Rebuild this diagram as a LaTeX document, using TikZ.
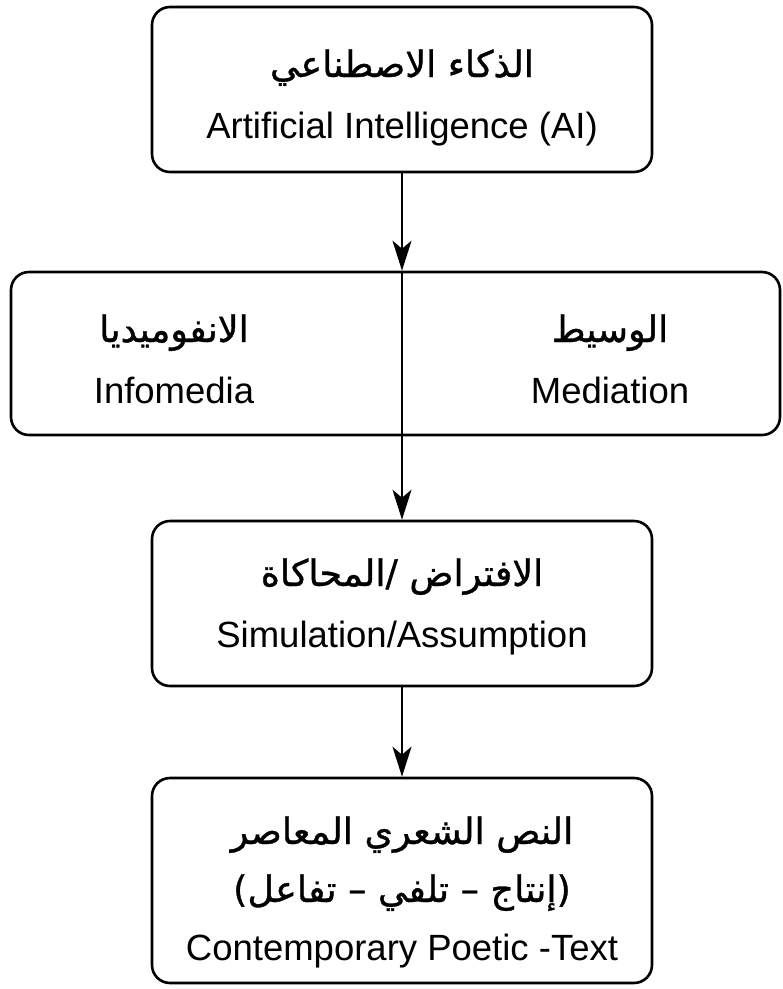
\documentclass[tikz,border=0pt]{standalone}
\usepackage{fontspec}
\setmainfont{Liberation Sans}
\newfontfamily\arabicfont[Script=Arabic,RawFeature={embolden=0.9}]{DejaVu Sans}
\TeXXeTstate=1
\usepackage{tikz}
\usetikzlibrary{arrows.meta,positioning}

\newcommand{\arline}[1]{{\arabicfont\beginR #1\endR}}

\begin{document}
\begin{tikzpicture}[
  x=1pt, y=1pt,
  font=\fontsize{36.5}{61}\selectfont,
  box/.style={draw, line width=2.6pt, rounded corners=18pt, align=center, minimum width=500pt, minimum height=165pt, text depth=8pt},
  wide/.style={draw, line width=2.6pt, rounded corners=18pt, minimum width=769pt, minimum height=163pt},
  lbl/.style={align=center, anchor=base},
  arr/.style={-{Stealth[length=30pt,width=19pt,inset=8pt]}, line width=2.3pt}
]
  \useasboundingbox (0,0) rectangle (783,-989);

  \node[box, text height=105pt] (ai) at (402,-89.5) {\arline{الذكاء الاصطناعي}\\Artificial Intelligence (AI)};
  \node[wide, below=97.4pt of ai, xshift=-6.5pt] (mid) {};
  \node[lbl] (info) at (174,-403) {\arline{الانفوميديا}\\Infomedia};
  \node[lbl] (media) at (610,-403) {\arline{الوسيط}\\Mediation};
  \node[box, text height=95pt, below=83.4pt of mid, xshift=6.5pt] (sim) {\arline{الافتراض /المحاكاة}\\Simulation/Assumption};
  \node[box, text height=167pt, font=\fontsize{36.5}{58}\selectfont, below=89.4pt of sim, minimum height=205pt] (poem) {\arline{النص الشعري المعاصر}\\\arline{(إنتاج – تلفي – تفاعل)}\\Contemporary Poetic -Text};

  \draw[arr] (ai) -- (ai.south |- mid.north);
  \draw[arr] (ai.south |- mid.north) -- (sim);
  \draw[arr] (sim) -- (poem);
\end{tikzpicture}
\end{document}
